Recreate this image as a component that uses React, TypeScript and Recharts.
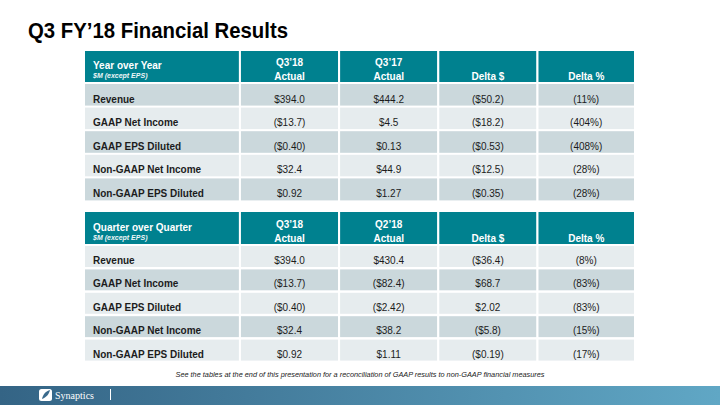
import React from "react";
import { BarChart, Bar, XAxis, YAxis } from "recharts";

// ---------- data ----------
const pageTitle = "Q3 FY’18 Financial Results";
const footnote =
  "See the tables at the end of this presentation for a reconciliation of GAAP results to non-GAAP financial measures";
const unitsNote = "$M (except EPS)";

const metrics = [
  "Revenue",
  "GAAP Net Income",
  "GAAP EPS Diluted",
  "Non-GAAP Net Income",
  "Non-GAAP EPS Diluted",
];

const yoyTitle = "Year over Year";
const yoyColumns = [
  ["Q3’18", "Actual"],
  ["Q3’17", "Actual"],
  ["", "Delta $"],
  ["", "Delta %"],
];
const yoyQ318 = ["$394.0", "($13.7)", "($0.40)", "$32.4", "$0.92"];
const yoyQ317 = ["$444.2", "$4.5", "$0.13", "$44.9", "$1.27"];
const yoyDeltaD = ["($50.2)", "($18.2)", "($0.53)", "($12.5)", "($0.35)"];
const yoyDeltaP = ["(11%)", "(404%)", "(408%)", "(28%)", "(28%)"];

const qoqTitle = "Quarter over Quarter";
const qoqColumns = [
  ["Q3’18", "Actual"],
  ["Q2’18", "Actual"],
  ["", "Delta $"],
  ["", "Delta %"],
];
const qoqQ318 = ["$394.0", "($13.7)", "($0.40)", "$32.4", "$0.92"];
const qoqQ218 = ["$430.4", "($82.4)", "($2.42)", "$38.2", "$1.11"];
const qoqDeltaD = ["($36.4)", "$68.7", "$2.02", "($5.8)", "($0.19)"];
const qoqDeltaP = ["(8%)", "(83%)", "(83%)", "(15%)", "(17%)"];

// ---------- layout / style ----------
const COL_PCT = [28.3, 18, 18, 18, 17.7]; // share of table width per column
const TABLE_LEFT = 84;
const TABLE_W = 551;
const FONT = "'Liberation Sans', Arial, Helvetica, sans-serif";
const TEAL = "#00818f";
const DARK = "#cbd8dc";
const LIGHT = "#e6ecee";
const INK = "#1c1c1c";

function buildBody(labels: string[], cols: string[][]) {
  return labels.map((label, r) => {
    const row: Record<string, any> = { metric: label, r, t0: label };
    COL_PCT.forEach((p, c) => {
      row[`w${c}`] = p;
      if (c > 0) row[`t${c}`] = cols[c - 1][r];
    });
    return row;
  });
}

function buildHeader(title: string, note: string, columns: string[][]) {
  const row: Record<string, any> = { metric: "header", r: 0, t0: [title, note] };
  COL_PCT.forEach((p, c) => {
    row[`w${c}`] = p;
    if (c > 0) row[`t${c}`] = columns[c - 1];
  });
  return [row];
}

const bodyShape = (col: number, stripeStart: number) => (p: any) => {
  const { x, y, width, height, payload } = p;
  if (width == null || height == null) return <g />;
  const dark = ((payload?.r ?? 0) + stripeStart) % 2 === 0;
  const txt = payload?.[`t${col}`] ?? "";
  return (
    <g>
      <rect x={x} y={y} width={width} height={height} fill={dark ? DARK : LIGHT} stroke="#ffffff" strokeWidth={2} />
      <text
        x={col === 0 ? x + 9 : x + width / 2}
        y={y + height / 2 + 7.5}
        textAnchor={col === 0 ? "start" : "middle"}
        fontFamily={FONT}
        fontSize={10}
        fontWeight={col === 0 ? 700 : 400}
        fill={INK}
      >
        {txt}
      </text>
    </g>
  );
};

const headerShape = (col: number) => (p: any) => {
  const { x, y, width, height, payload } = p;
  if (width == null || height == null) return <g />;
  const lines: string[] = payload?.[`t${col}`] ?? ["", ""];
  return (
    <g>
      <rect x={x} y={y} width={width} height={height} fill={TEAL} stroke="#ffffff" strokeWidth={2} />
      {col === 0 ? (
        <>
          <text x={x + 9} y={y + height - 14.5} fontFamily={FONT} fontSize={10} fontWeight={700} fill="#ffffff">
            {lines[0]}
          </text>
          <text x={x + 9} y={y + height - 5.5} fontFamily={FONT} fontSize={7} fontStyle="italic" fontWeight={700} fill="#eef6f7">
            {lines[1]}
          </text>
        </>
      ) : (
        <>
          <text x={x + width / 2} y={y + height - 17} textAnchor="middle" fontFamily={FONT} fontSize={10} fontWeight={700} fill="#ffffff">
            {lines[0]}
          </text>
          <text x={x + width / 2} y={y + height - 3.5} textAnchor="middle" fontFamily={FONT} fontSize={10} fontWeight={700} fill="#ffffff">
            {lines[1]}
          </text>
        </>
      )}
    </g>
  );
};

function Grid({ top, height, data, shape }: { top: number; height: number; data: any[]; shape: (c: number) => any }) {
  return (
    <div style={{ position: "absolute", left: TABLE_LEFT, top, width: TABLE_W, height }}>
      <BarChart
        width={TABLE_W}
        height={height}
        data={data}
        layout="vertical"
        margin={{ top: 0, right: 0, bottom: 0, left: 0 }}
        barCategoryGap={0}
        barGap={0}
      >
        <XAxis type="number" hide domain={[0, 100]} allowDataOverflow />
        <YAxis type="category" dataKey="metric" hide />
        {COL_PCT.map((_, c) => (
          <Bar key={c} dataKey={`w${c}`} stackId="cells" isAnimationActive={false} shape={shape(c)} />
        ))}
      </BarChart>
    </div>
  );
}

export default function App() {
  const yoyHeader = buildHeader(yoyTitle, unitsNote, yoyColumns);
  const yoyBody = buildBody(metrics, [yoyQ318, yoyQ317, yoyDeltaD, yoyDeltaP]);
  const qoqHeader = buildHeader(qoqTitle, unitsNote, qoqColumns);
  const qoqBody = buildBody(metrics, [qoqQ318, qoqQ218, qoqDeltaD, qoqDeltaP]);

  return (
    <div style={{ position: "absolute", left: 0, top: 0, width: 720, height: 405, background: "#ffffff", overflow: "hidden" }}>
      <svg width={720} height={405} style={{ position: "absolute", left: 0, top: 0 }}>
        <defs>
          <linearGradient id="footerGrad" x1="0" y1="0" x2="1" y2="0">
            <stop offset="0" stopColor="#346485" />
            <stop offset="1" stopColor="#60a7c5" />
          </linearGradient>
        </defs>
        <text x={28} y={38} fontFamily={FONT} fontSize={22} fontWeight={700} fill="#000000" textLength={260} lengthAdjust="spacingAndGlyphs">
          {pageTitle}
        </text>
        <text x={360} y={377} textAnchor="middle" fontFamily={FONT} fontSize={7.5} fontStyle="italic" fill="#222222" textLength={369} lengthAdjust="spacingAndGlyphs">
          {footnote}
        </text>
        <rect x={0} y={386} width={720} height={19} fill="url(#footerGrad)" />
        <rect x={39} y={389} width={13} height={12} rx={2.5} fill="#ffffff" />
        <path d="M42 399 C43 394 46 391 50 390 C49 394 47 397 42 399 Z" fill="#3a6a8c" />
        <text x={55} y={399} fontFamily="'Liberation Serif', 'DejaVu Serif', serif" fontSize={10.5} fill="#ffffff" textLength={39} lengthAdjust="spacingAndGlyphs">
          Synaptics
        </text>
        <line x1={110.5} y1={389} x2={110.5} y2={400} stroke="#ffffff" strokeWidth={1} />
      </svg>
      <Grid top={50} height={33} data={yoyHeader} shape={headerShape} />
      <Grid top={83} height={118} data={yoyBody} shape={(c) => bodyShape(c, 0)} />
      <Grid top={211} height={34} data={qoqHeader} shape={headerShape} />
      <Grid top={245} height={117} data={qoqBody} shape={(c) => bodyShape(c, 1)} />
    </div>
  );
}
